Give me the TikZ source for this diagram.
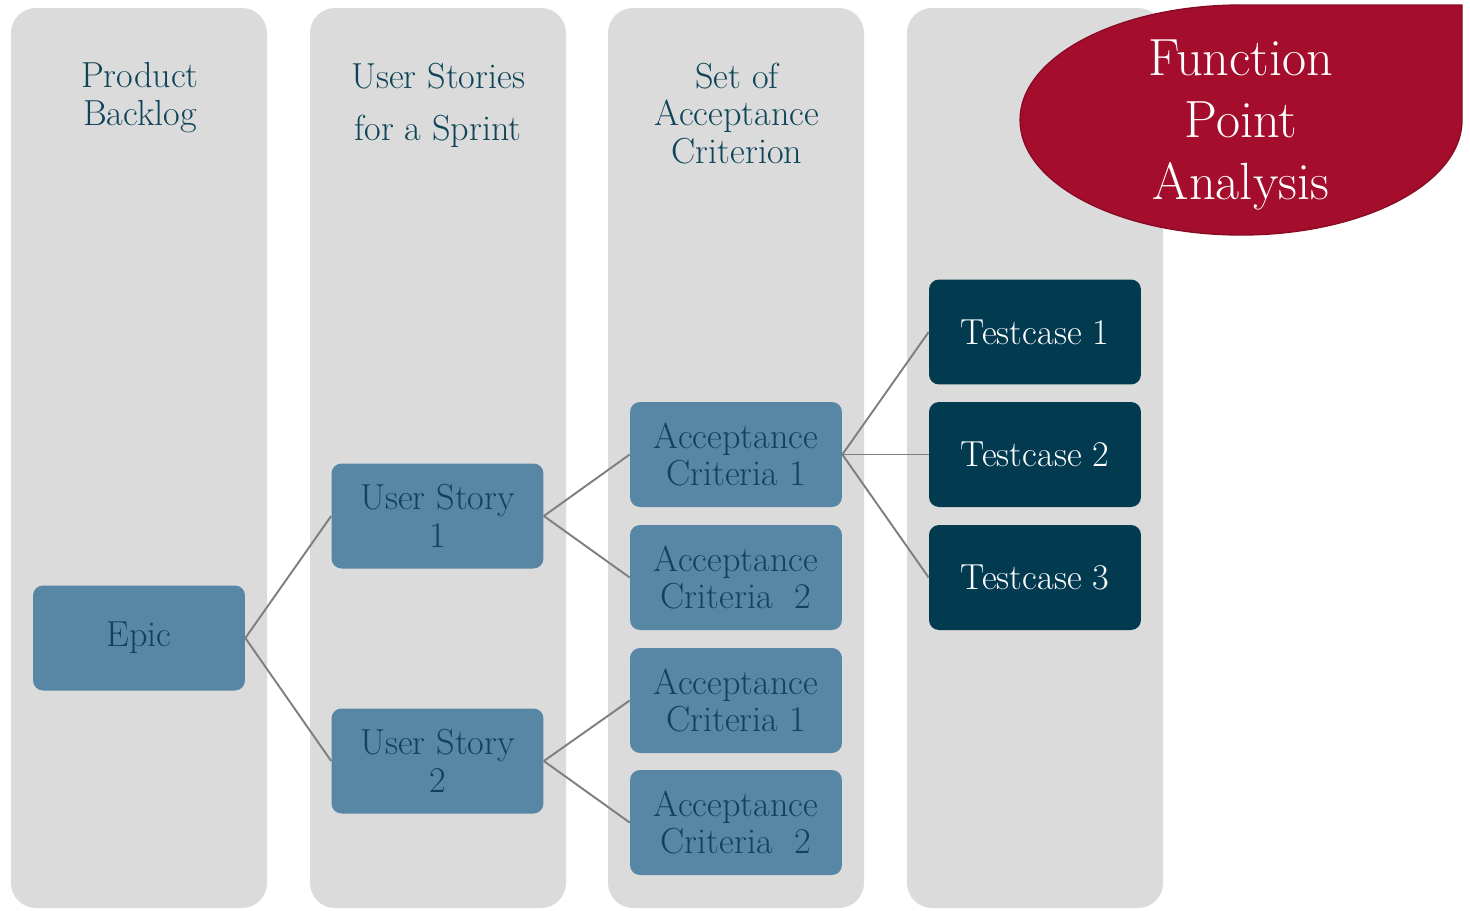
\documentclass[tikz,border=0pt]{standalone}
\definecolor{lanegrey}{HTML}{DBDBDB}
\definecolor{boxblue}{HTML}{5886A5}
\definecolor{boxnavy}{HTML}{023A50}
\definecolor{inktext}{HTML}{0E4458}
\definecolor{linkgrey}{HTML}{7F7F7F}
\definecolor{fpared}{HTML}{A50D2D}
\definecolor{fpaedge}{HTML}{8A0A24}
\tikzset{
  lane/.style={fill=lanegrey, draw=none, rounded corners=0.5cm},
  title/.style={text=inktext, align=center,
    font=\fontsize{20.6}{21.5}\selectfont},
  item/.style={rounded corners=0.2cm, minimum width=4.24cm, minimum height=2.1cm,
    inner sep=0pt, align=center, font=\fontsize{20.6}{21.5}\selectfont},
  light/.style={item, fill=boxblue, text=inktext},
  dark/.style={item, fill=boxnavy, text=white},
  link/.style={draw=linkgrey, line width=1.1pt},
}
\begin{document}
\begin{tikzpicture}[x=0.02cm, y=0.02cm]
\useasboundingbox (0,0) rectangle (1470,-910);

% four swim lanes
\fill[lane] (11,-8) rectangle (267,-908);
\fill[lane] (310,-8) rectangle (566,-908);
\fill[lane] (608,-8) rectangle (864,-908);
\fill[lane] (907,-8) rectangle (1163,-908);

% lane headings
\node[title] (hBacklog) at (140,-98) {Product\\Backlog};
\node[title] (hStories) at (438,-105.5) {User Stories\\[8.5pt]for a Sprint};
\node[title] (hCriteria) at (737,-113.5) {Set of\\Acceptance\\Criterion};

% teardrop badge
\fill[fpared, draw=fpaedge, line width=0.8pt]
  (1462,-5) -- (1462,-120)
  arc[start angle=0, end angle=-90, x radius=4.42cm, y radius=2.3cm]
  arc[start angle=270, end angle=90, x radius=4.42cm, y radius=2.3cm]
  -- cycle;
\node[text=white, align=center, font=\fontsize{29.8}{35.5}\selectfont]
  (fpa) at (1241,-125) {Function\\Point\\Analysis};

% hierarchy boxes
\node[light] (epic) at (139,-638) {Epic};
\node[light] (us1) at (437.5,-516) {User Story\\1};
\node[light] (us2) at (437.5,-761) {User Story\\2};
\node[light] (ac11) at (736,-454.5) {Acceptance\\Criteria 1};
\node[light] (ac12) at (736,-577.5) {Acceptance\\Criteria\ \ 2};
\node[light] (ac21) at (736,-700.5) {Acceptance\\Criteria 1};
\node[light] (ac22) at (736,-822.5) {Acceptance\\Criteria\ \ 2};
\node[dark] (tc1) at (1035,-332) {Testcase 1};
\node[dark] (tc2) at (1035,-454.5) {Testcase 2};
\node[dark] (tc3) at (1035,-577.5) {Testcase 3};

% connectors
\draw[link] (epic.east) -- (us1.west);
\draw[link] (epic.east) -- (us2.west);
\draw[link] (us1.east) -- (ac11.west);
\draw[link] (us1.east) -- (ac12.west);
\draw[link] (us2.east) -- (ac21.west);
\draw[link] (us2.east) -- (ac22.west);
\draw[link] (ac11.east) -- (tc1.west);
\draw[link] (ac11.east) -- (tc2.west);
\draw[link] (ac11.east) -- (tc3.west);
\end{tikzpicture}
\end{document}
